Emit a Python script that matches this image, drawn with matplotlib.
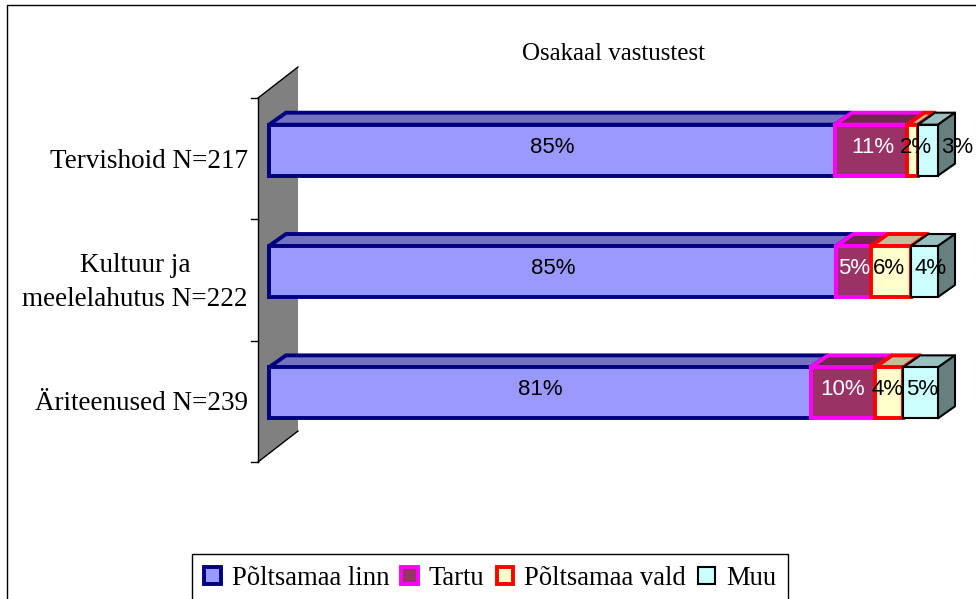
import matplotlib
matplotlib.use("Agg")
import matplotlib.pyplot as plt
from matplotlib.patches import Patch, Polygon

W = 976
H = 599

categories = ["Äriteenused N=239", "Kultuur ja\nmeelelahutus N=222", "Tervishoid N=217"]
series = ["Põltsamaa linn", "Tartu", "Põltsamaa vald", "Muu"]
linn = [81.0, 84.8, 84.6]
tartu = [9.6, 5.2, 10.8]
vald = [4.2, 6.0, 1.6]
muu = [5.2, 4.0, 3.0]
values = [linn, tartu, vald, muu]
labels = [["81%", "85%", "85%"], ["10%", "5%", "11%"], ["4%", "6%", "2%"], ["5%", "4%", "3%"]]
label_shift = [[0, 1, 0], [0, 0, 2], [-2, -2, 3], [2, 6, 29]]

faces = ["#9999ff", "#993366", "#ffffcc", "#ccffff"]
tops = ["#7373bf", "#73264d", "#bfbf99", "#99bfbf"]
sides = ["#4d4d80", "#4d1a33", "#808066", "#668080"]
edges = ["#000080", "#ff00ff", "#ff0000", "#000000"]
widths = [2.8, 2.8, 2.8, 1.5]
text_col = ["black", "white", "black", "black"]

fig = plt.figure(figsize=(W / 100, H / 100), dpi=100)
# x 0..100 = px 269..938, one category step = 121.2 px
ax = fig.add_axes([269 / W, 1 - 462 / H, 669 / W, 364 / H])
ax.set_xlim(0, 100)
ax.set_ylim(-0.57, 2.43)
ax.axis("off")

px_x = 100 / 669
px_y = 3.0 / 364
dx = 17 * px_x
dy = 12 * px_y
h = 0.42

# outer frame
fig.add_artist(plt.Line2D([7 / W, 7 / W, 1], [0, 1 - 5 / H, 1 - 5 / H], color="black", lw=1))

# side wall
y0, y1 = ax.get_ylim()
wx0 = -11 * px_x
wx1 = 29 * px_x
ax.add_patch(Polygon([(wx0, y0), (wx1, y0 + 31 * px_y), (wx1, y1 + 31 * px_y), (wx0, y1)],
                     fc="#808080", ec="none", clip_on=False, zorder=1))
ax.plot([wx0, wx0], [y0, y1], color="black", lw=1, clip_on=False, zorder=2)
ax.plot([wx0, wx1], [y0, y0 + 31 * px_y], color="black", lw=1, clip_on=False, zorder=2)
ax.plot([wx0, wx1], [y1, y1 + 31 * px_y], color="black", lw=1, clip_on=False, zorder=2)
for t in [-0.57, 0.43, 1.43, 2.43]:
    ax.plot([wx0 - 7 * px_x, wx0], [t, t], color="black", lw=1, clip_on=False, zorder=2)

for i, name in enumerate(categories):
    left = 0
    for j in range(len(series)):
        v = values[j][i]
        right = left + v
        top = i + h / 2
        bot = i - h / 2
        ax.add_patch(Polygon([(left, top), (left + dx, top + dy), (right + dx, top + dy), (right, top)],
                             fc=tops[j], ec=edges[j], lw=widths[j], joinstyle="round", clip_on=False, zorder=3 + j))
        if j == 3:
            ax.add_patch(Polygon([(right, top), (right + dx, top + dy), (right + dx, bot + dy), (right, bot)],
                                 fc=sides[j], ec=edges[j], lw=widths[j], joinstyle="round", clip_on=False, zorder=3 + j))
        ax.barh(i, v, height=h, left=left, color=faces[j], edgecolor=edges[j], linewidth=widths[j], zorder=3 + j, clip_on=False)
        ax.text(left + v / 2 + label_shift[j][i] * px_x, i + 3 * px_y, labels[j][i], color=text_col[j],
                ha="center", va="center", fontsize=16, family="Liberation Sans", zorder=10, clip_on=False)
        left = right
    if "\n" in name:
        ax.text(-134 * px_x, i - 11 * px_y, name, ha="center", va="center", fontsize=19.5,
                family="Liberation Serif", linespacing=1.45, clip_on=False)
    else:
        ax.text(-21 * px_x, i - 11 * px_y, name, ha="right", va="center", fontsize=19.5,
                family="Liberation Serif", clip_on=False)

fig.text(613 / W, 1 - 54 / H, "Osakaal vastustest", ha="center", va="center", fontsize=18, family="Liberation Serif")

handles = [Patch(fc=faces[j], ec=edges[j], lw=widths[j]) for j in range(4)]
leg = fig.legend(handles, series, loc="lower left", bbox_to_anchor=(192 / W, -4 / H), ncol=4, frameon=True,
                 fancybox=False, edgecolor="black", framealpha=1, borderaxespad=0,
                 prop={"family": "Liberation Serif", "size": 19.2},
                 handlelength=0.62, handleheight=0.62, handletextpad=0.42, columnspacing=0.45, borderpad=0.45)

fig.savefig("out.png", dpi=100)
